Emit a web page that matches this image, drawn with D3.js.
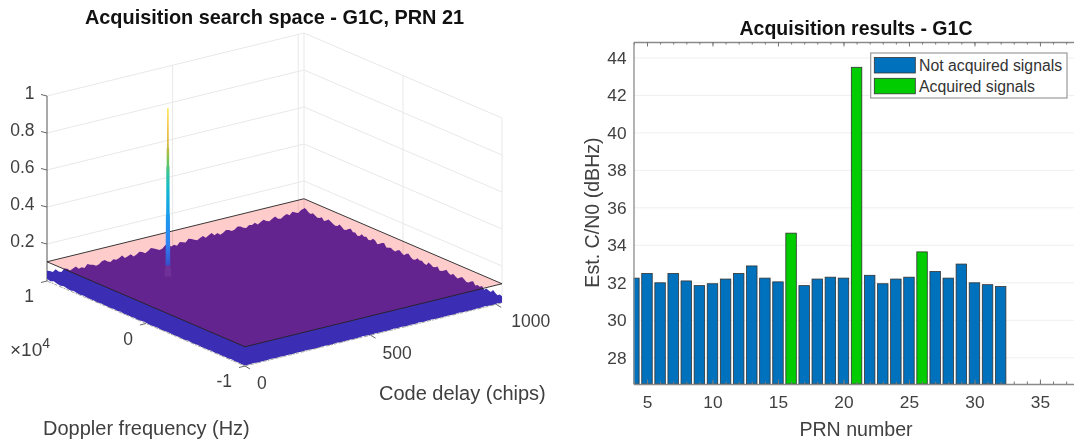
<!DOCTYPE html>
<html><head><meta charset="utf-8">
<script src="https://cdn.jsdelivr.net/npm/d3@7/dist/d3.min.js"></script>
<style>
html,body{margin:0;padding:0;background:#fff;overflow:hidden}
svg{display:block;filter:blur(0.42px)}
text{font-family:"Liberation Sans",Arial,sans-serif}
</style></head><body>
<svg id="c" width="1074" height="442"></svg>
<script>
// ---------- data: acquisition results ----------
const prn = [4,5,6,7,8,9,10,11,12,13,14,15,16,17,18,19,20,21,22,23,24,25,26,27,28,29,30,31,32];
const cn0 = [32.25,32.5,32.0,32.5,32.1,31.85,31.95,32.2,32.5,32.9,32.25,32.05,34.65,31.85,32.2,32.3,32.25,43.5,32.4,31.95,32.2,32.3,33.65,32.6,32.25,33.0,32.0,31.9,31.8];
const acquiredPrn = [16,21,26];
const xTicksBars = [5,10,15,20,25,30,35];
const yTicksBars = [28,30,32,34,36,38,40,42,44];
const legendLabels = ["Not acquired signals","Acquired signals"];
// ---------- data: search space ----------
const codeTicks = [0,500,1000];
const dopplerTicks = [-10000,0,10000];
const dopplerTickLabels = ["-1","0","1"];
const zTicks = [0.2,0.4,0.6,0.8,1];
const thresholdZ = 0.104;
const peakCode = 300, peakDoppler = 5400;
const peakZ =     [0.09,0.14,0.36,0.37,0.49,0.62,0.63,0.72,0.73,0.94];
const peakWidth = [9.5, 9,   8,   7,   6.5, 6.5, 5,   5,   3.5, 3];
const baseZ =     [0.03,0.09];
const baseWidth = [14,  10];
const surfaceBackLeft = [.056,.050,.041,.052,.036,.030,.045,.039,.026,.033,.040,.024,.029,.020,.038,.031,.027,.018,.022,.034,.037,.025,.019,.030,.023,.028,.039,.021,.026,.033,.017,.024,.036,.031,.020,.028,.040,.034,.026,.019,.023,.038,.032,.022,.027,.018,.035,.029,.024,.041,.036,.028,.021,.030,.037,.023,.033,.041,.026,.034,.021,.027,.039,.035,.025,.029,.042,.038,.027,.022,.035,.031,.040,.026,.036,.044,.033,.029,.038,.046,.031,.027,.037,.044,.034,.049,.041,.035,.047,.052];
const surfaceBackRight = [.056,.052,.042,.037,.047,.040,.033,.036,.045,.030,.038,.049,.043,.036,.031,.034,.047,.039,.029,.033,.044,.050,.036,.041,.028,.032,.046,.038,.043,.031,.035,.048,.044,.029,.037,.045,.051,.032,.036,.040,.034,.030,.042,.047,.037,.031,.044,.050,.036,.028,.033,.046,.039,.042,.033,.030,.049,.043,.035,.038,.047,.030,.034,.041,.050,.038,.032,.045,.036,.029,.039,.048,.041,.031,.034,.044,.051,.033,.040,.036,.046,.030,.042,.037,.034,.049,.039,.031,.041,.036];
const surfaceFrontRight = [.002,.004,.001,.003,.005,.002,.004,.001,.003,.002,.005,.001,.003,.004,.002,.001,.004,.003,.001,.005,.002,.003,.001,.004,.002,.005,.001,.003,.002,.004,.001,.003,.005,.002,.001,.004,.003,.002,.005,.001,.003,.004,.002,.001,.003,.005,.002,.004,.001,.003,.002,.004,.001,.005,.002,.003,.001,.004,.002,.003];
const surfaceFrontLeft = [.003,.001,.004,.002,.005,.001,.003,.002,.004,.001,.005,.002,.003,.001,.004,.002,.003,.005,.001,.002,.004,.001,.003,.005,.002,.001,.004,.003,.001,.002,.005,.003,.001,.004,.002,.003,.001,.005,.002,.004,.001,.003,.002,.005,.001,.004,.002,.003,.006,.002,.004,.008,.003,.006,.011,.005,.009,.014,.007,.012];
// parula colour stops keyed by height
const parulaZ = [0,0.2,0.36,0.5,0.58,0.66,0.74,0.84,0.94];
const parulaC = ["#3e26a8","#2f80f2","#1a9cec","#12b8d0","#30c4a0","#78c454","#d4b840","#f2c244","#fbe84a"];

const svg = d3.select("#c");
const fmt = {fill:"#404040"};

// ========== left panel ==========
const codeMax = 1023;
const uS = d3.scaleLinear().domain([0,codeMax]).range([0,1]);
const wS = d3.scaleLinear().domain([-10000,10000]).range([0,1]);
const zS = d3.scaleLinear().domain([0,1]).range([0,185]);
function P(code,dop,z){
  const u=uS(code), w=wS(dop);
  return [245+257*u-198*w, 366-63*u-85*w-zS(z)];
}
const L = svg.append("g");
const pathOf = pts => "M"+pts.map(p=>p[0].toFixed(2)+","+p[1].toFixed(2)).join("L");

// walls grid
const grid = L.append("g").attr("fill","none").attr("stroke","#e8e8e8").attr("stroke-width",1);
zTicks.forEach(z=>{
  grid.append("path").attr("d",pathOf([P(0,10000,z),P(codeMax,10000,z),P(codeMax,-10000,z)]));
});
codeTicks.filter(c=>c>0).forEach(c=>{
  grid.append("path").attr("d",pathOf([P(c,10000,0),P(c,10000,1)]));
});
grid.append("path").attr("d",pathOf([P(codeMax,10000,0),P(codeMax,10000,1)]));
dopplerTicks.filter(d=>d<10000).forEach(d=>{
  grid.append("path").attr("d",pathOf([P(codeMax,d,0),P(codeMax,d,1)]));
});

// floor axis & z axis
L.append("path").attr("fill","none").attr("stroke","#555").attr("d",pathOf([P(0,10000,0),P(0,10000,1)]));

// surface silhouette
const ringPts = [];
surfaceBackLeft.forEach((z,i)=>ringPts.push(P(codeMax*i/(surfaceBackLeft.length-1),10000,z)));
surfaceBackRight.forEach((z,i)=>ringPts.push(P(codeMax,10000-20000*i/(surfaceBackRight.length-1),z)));
surfaceFrontRight.forEach((z,i)=>ringPts.push(P(codeMax*(1-i/(surfaceFrontRight.length-1)),-10000,z)));
surfaceFrontLeft.forEach((z,i)=>ringPts.push(P(0,-10000+20000*i/(surfaceFrontLeft.length-1),z)));
L.append("path").attr("d",pathOf(ringPts)+"Z").attr("fill","#3c2eb4");
// floor edge, broken up by the noisy surface foot
L.append("path").attr("fill","none").attr("stroke","#9a9a9a").attr("stroke-width",0.9).attr("stroke-dasharray","4 1 2 1 3 2")
 .attr("d",pathOf([P(0,10000,0),P(0,-10000,0),P(codeMax,-10000,0)]));

// faint base of the peak, below the plane
const cP = z=>P(peakCode,peakDoppler,z);
const baseL = baseZ.map((z,i)=>[cP(z)[0]-baseWidth[i]*0.25,cP(z)[1]]);
const baseR = baseZ.map((z,i)=>[cP(z)[0]+baseWidth[i]*0.25,cP(z)[1]]);
L.append("path").attr("d",pathOf(baseL.concat(baseR.reverse()))+"Z").attr("fill","#5a48c8").attr("fill-opacity",0.55);

// threshold plane
L.append("path").attr("d",pathOf([P(0,10000,thresholdZ),P(codeMax,10000,thresholdZ),P(codeMax,-10000,thresholdZ),P(0,-10000,thresholdZ)])+"Z")
 .attr("fill","#ff0000").attr("fill-opacity",0.2).attr("stroke","#222").attr("stroke-width",0.9);

// peak
const zColor = d3.scaleLinear().domain(parulaZ).range(parulaC);
const defs = svg.append("defs");
const grad = defs.append("linearGradient").attr("id","pk").attr("gradientUnits","userSpaceOnUse")
  .attr("x1",0).attr("x2",0).attr("y1",cP(0)[1]).attr("y2",cP(1)[1]);
parulaZ.forEach(z=>grad.append("stop").attr("offset",z).attr("stop-color",zColor(z)));
const sL = peakZ.map((z,i)=>[cP(z)[0]-peakWidth[i]*0.25, cP(z)[1]]);
const sR = peakZ.map((z,i)=>[cP(z)[0]+peakWidth[i]*0.25, cP(z)[1]]);
L.append("path").attr("d",pathOf(sL.concat(sR.reverse()))+"Z").attr("fill","url(#pk)");

// ticks & labels of left panel
const tickCol="#666";
zTicks.forEach(z=>{
  const p=P(0,10000,z);
  L.append("line").attr("x1",p[0]-6).attr("y1",p[1]-1.5).attr("x2",p[0]).attr("y2",p[1]).attr("stroke",tickCol);
  L.append("text").text(d3.format("~g")(z)).attr("x",34.5).attr("y",p[1]-3).attr("dy","0.36em").attr("text-anchor","end").attr("font-size",17.5).attr("fill",fmt.fill);
});
dopplerTicks.forEach((d,i)=>{
  const p=P(0,d,0);
  L.append("line").attr("x1",p[0]-6).attr("y1",p[1]+1.5).attr("x2",p[0]).attr("y2",p[1]).attr("stroke",tickCol);
  L.append("text").text(dopplerTickLabels[i]).attr("x",p[0]-13).attr("y",p[1]+15).attr("dy","0.36em").attr("text-anchor","end").attr("font-size",17.5).attr("fill",fmt.fill);
});
codeTicks.forEach(c=>{
  const p=P(c,-10000,0);
  L.append("line").attr("x1",p[0]+5).attr("y1",p[1]+3).attr("x2",p[0]).attr("y2",p[1]).attr("stroke",tickCol);
  L.append("text").text(c).attr("x",p[0]+(c===1000?15:12)).attr("y",p[1]+(c===1000?16:17)).attr("dy","0.36em").attr("text-anchor","start").attr("font-size",17.5).attr("fill",fmt.fill);
});
const ex = L.append("text").attr("x",10).attr("y",356).attr("font-size",19).attr("fill",fmt.fill);
ex.append("tspan").text("×10");
ex.append("tspan").text("4").attr("dy",-8).attr("font-size",14);
L.append("text").text("Code delay (chips)").attr("x",379).attr("y",393).attr("dy","0.36em").attr("font-size",20).attr("fill",fmt.fill);
L.append("text").text("Doppler frequency (Hz)").attr("x",43).attr("y",428).attr("dy","0.36em").attr("font-size",20).attr("fill",fmt.fill);
L.append("text").text("Acquisition search space - G1C, PRN 21").attr("x",274.5).attr("y",17).attr("dy","0.36em").attr("text-anchor","middle").attr("font-size",19.9).attr("font-weight","bold").attr("fill","#111");

// ========== right panel ==========
const x = d3.scaleLinear().domain([3.97,37.6]).range([633.5,1074]);
const y = d3.scaleLinear().domain([26.6,44.85]).range([384,42]);
const R = svg.append("g");
defs.append("clipPath").attr("id","plot").append("rect").attr("x",633.5).attr("y",42).attr("width",441).attr("height",342);
R.append("g").selectAll("line").data(yTicksBars).join("line")
 .attr("x1",633.5).attr("x2",1074).attr("y1",d=>y(d)).attr("y2",d=>y(d)).attr("stroke","#efefef");
const barW = x(0.8)-x(0);
R.append("g").attr("clip-path","url(#plot)").selectAll("rect").data(prn).join("rect")
 .attr("x",d=>x(d)-barW/2).attr("width",barW)
 .attr("y",(d,i)=>y(cn0[i])).attr("height",(d,i)=>384-y(cn0[i]))
 .attr("fill",d=>acquiredPrn.includes(d)?"#00cc00":"#0072bd")
 .attr("stroke","#333").attr("stroke-width",0.8);

const minorTicks = d3.range(4,38);
const ax = "#8a8a8a";
function style(g){ g.selectAll("path,line").attr("stroke",ax); g.selectAll("text").attr("font-family",'"Liberation Sans",Arial,sans-serif').attr("font-size",17.3).attr("fill",fmt.fill); }
R.append("g").attr("transform","translate(0,384)")
 .call(d3.axisBottom(x).tickValues(minorTicks).tickSize(-2.5).tickSizeOuter(0).tickFormat(""))
 .call(g=>g.selectAll("line").attr("stroke","#777")).call(g=>g.select("path").attr("stroke",ax).attr("stroke-width",1.3));
R.append("g").attr("transform","translate(0,384)")
 .call(d3.axisBottom(x).tickValues(xTicksBars).tickSize(-4.5).tickSizeOuter(0).tickPadding(12).tickFormat(d3.format("d")))
 .call(style).call(g=>g.select("path").remove()).call(g=>g.selectAll("line").attr("stroke","#777"));
R.append("g").attr("transform","translate(0,42)")
 .call(d3.axisTop(x).tickValues(minorTicks).tickSize(-2.5).tickSizeOuter(0).tickFormat(""))
 .call(g=>g.selectAll("line").attr("stroke","#777")).call(g=>g.select("path").attr("stroke",ax).attr("stroke-width",1.3));
R.append("g").attr("transform","translate(0,42)")
 .call(d3.axisTop(x).tickValues(xTicksBars).tickSize(-4.5).tickSizeOuter(0).tickFormat(""))
 .call(g=>g.select("path").remove()).call(g=>g.selectAll("line").attr("stroke","#777"));
R.append("g").attr("transform","translate(633.5,0)")
 .call(d3.axisLeft(y).tickValues(yTicksBars).tickSize(0).tickSizeOuter(0).tickPadding(7).tickFormat(d3.format("d")))
 .call(style).call(g=>g.select("path").attr("stroke-width",1.3));

R.append("text").text("Acquisition results - G1C").attr("x",856).attr("y",28).attr("dy","0.36em").attr("text-anchor","middle").attr("font-size",19.5).attr("font-weight","bold").attr("fill","#111");
R.append("text").text("PRN number").attr("x",856).attr("y",429).attr("dy","0.36em").attr("text-anchor","middle").attr("font-size",19.6).attr("fill",fmt.fill);
R.append("text").text("Est. C/N0 (dBHz)").attr("transform","translate(592,212.5) rotate(-90)").attr("dy","0.36em").attr("text-anchor","middle").attr("font-size",19.6).attr("fill",fmt.fill);

// legend
const lg = R.append("g");
lg.append("rect").attr("x",870.7).attr("y",53).attr("width",196.3).attr("height",45).attr("fill","#fff").attr("stroke","#9a9a9a").attr("stroke-width",1.2);
legendLabels.forEach((t,i)=>{
  const yy = i===0?57.5:78.3;
  lg.append("rect").attr("x",874.3).attr("y",yy).attr("width",41).attr("height",15.5)
    .attr("fill",i===0?"#0072bd":"#00cc00").attr("stroke","#333").attr("stroke-width",0.8);
  lg.append("text").text(t).attr("x",919).attr("y",yy+8).attr("dy","0.36em").attr("font-size",15.8).attr("fill","#333");
});
</script>
</body></html>
